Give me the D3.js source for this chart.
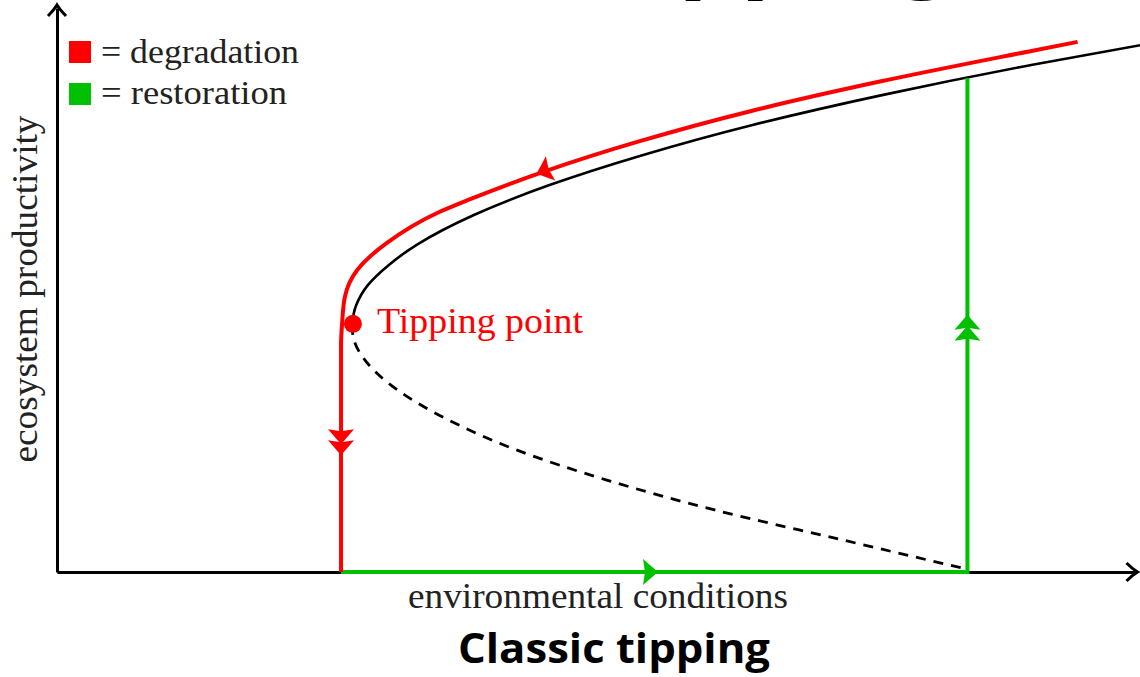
<!DOCTYPE html>
<html>
<head>
<meta charset="utf-8">
<script src="https://cdn.jsdelivr.net/npm/d3@7"></script>
<style>
  html, body { margin: 0; padding: 0; background: #fff; }
  svg { display: block; }
</style>
</head>
<body>
<div id="chart"></div>
<script>
(function(){
  'use strict';

  // upper (stable) branch, right end first
  var stableX = [100.3, 90.2, 76.5, 64.5, 54.2, 45.6, 38.6, 33.3, 30.7, 28.8, 27.7, 27.3];
  var stableY = [93.4, 89.9, 84.6, 79.3, 73.9, 68.6, 63.3, 58.0, 54.4, 50.9, 47.3, 43.8];
  // lower (unstable) branch, dashed
  var unstableX = [27.3, 27.5, 28.5, 31.5, 36.2, 42.6, 50.9, 60.9, 72.7, 83.8];
  var unstableY = [43.8, 41.1, 37.6, 32.3, 27.0, 21.6, 16.3, 11.0, 5.7, 0.7];
  // degradation path (red)
  var degradeX = [94.5, 90.0, 76.3, 64.2, 53.8, 45.1, 38.2, 35.2, 30.55, 27.8, 26.65, 26.4, 26.3, 26.3];
  var degradeY = [94.0, 92.3, 87.0, 81.7, 76.3, 71.0, 66.05, 63.65, 58.35, 53.55, 48.75, 44.15, 40.25, 0];
  // restoration path (green)
  var restoreX = [26.3, 84.3, 84.3];
  var restoreY = [0, 0, 87.6];
  // tipping point
  var tipX = 27.4, tipY = 44.0;
  // arrow marks: [tipX, tipY, towardX, towardY, heads]
  var degradeArrows = [[44.4, 70.6, 38.2, 66.05, 1], [26.3, 20.7, 26.3, 0, 2]];
  var restoreArrows = [[55.65, 0, 84.3, 0, 1], [84.3, 45.6, 84.3, 87.6, 2]];

  var legendLabels = ['= degradation', '= restoration'];
  var xLabel = 'environmental conditions',
      yLabel = 'ecosystem productivity',
      tipLabel = 'Tipping point',
      caption = 'Classic tipping';

  var w = 1140, h = 677,
      red = '#ff0000', green = '#00c000',
      serif = '"Liberation Serif", "DejaVu Serif", serif';

  var svg = d3.select('#chart').append('svg')
    .attr('width', w)
    .attr('height', h);

  var x = d3.scaleLinear().domain([0, 100]).range([57, 1137]),
      y = d3.scaleLinear().domain([0, 100]).range([572, 8]);

  // heading above the chart, cut off by the top edge
  svg.append('text')
    .attr('x', 678).attr('y', -24)
    .attr('textLength', 275)
    .attr('lengthAdjust', 'spacingAndGlyphs')
    .style('font-family', '"Open Sans", sans-serif')
    .style('font-weight', 700)
    .style('font-size', '105px')
    .text('pping');

  // axes without ticks
  svg.append('g')
    .attr('transform', 'translate(0,' + y(0) + ')')
    .call(d3.axisBottom(x).tickValues([]).tickSizeOuter(0))
    .select('.domain').attr('stroke', '#000').attr('stroke-width', 3);
  svg.append('g')
    .attr('transform', 'translate(' + x(0) + ',0)')
    .call(d3.axisLeft(y).tickValues([]).tickSizeOuter(0))
    .select('.domain').attr('stroke', '#000').attr('stroke-width', 3);

  var chevron = 'M-11,-9 Q-5,-3 0,0 Q-5,3 -11,9';
  svg.append('path').attr('d', chevron)
    .attr('transform', 'translate(' + (x(100) + 0.5) + ',' + y(0) + ')')
    .attr('fill', 'none').attr('stroke', '#000').attr('stroke-width', 3);
  svg.append('path').attr('d', chevron)
    .attr('transform', 'translate(' + x(0) + ',' + (y(100) - 3) + ') rotate(-90)')
    .attr('fill', 'none').attr('stroke', '#000').attr('stroke-width', 3);

  var lineY = d3.line()
    .x(function(d){ return x(d[0]); })
    .y(function(d){ return y(d[1]); })
    .curve(d3.curveMonotoneY);
  var lineL = d3.line()
    .x(function(d){ return x(d[0]); })
    .y(function(d){ return y(d[1]); });

  function pairs(xs, ys){ return xs.map(function(v, i){ return [v, ys[i]]; }); }

  svg.append('path')
    .attr('d', lineY(pairs(stableX, stableY)))
    .attr('fill', 'none').attr('stroke', '#000').attr('stroke-width', 2.6);
  svg.append('path')
    .attr('d', lineY(pairs(unstableX, unstableY)))
    .attr('fill', 'none').attr('stroke', '#000').attr('stroke-width', 2.8)
    .attr('stroke-dasharray', '10,8');

  svg.append('path')
    .attr('d', lineL(pairs(restoreX, restoreY)))
    .attr('fill', 'none').attr('stroke', green).attr('stroke-width', 4);
  svg.append('path')
    .attr('d', lineY(pairs(degradeX, degradeY)))
    .attr('fill', 'none').attr('stroke', red).attr('stroke-width', 4)
    .attr('stroke-linejoin', 'round');

  var head = 'M0,0 L-15,-13 L-13,0 L-15,13 Z';
  function drawArrows(list, col){
    list.forEach(function(a){
      var px = x(a[0]), py = y(a[1]),
          ang = Math.atan2(y(a[3]) - py, x(a[2]) - px) * 180 / Math.PI;
      var g = svg.append('g')
        .attr('transform', 'translate(' + px + ',' + py + ') rotate(' + ang + ')');
      d3.range(a[4]).forEach(function(k){
        g.append('path').attr('d', head)
          .attr('transform', 'translate(' + (-11 * k) + ',0)')
          .attr('fill', col);
      });
    });
  }
  drawArrows(degradeArrows, red);
  drawArrows(restoreArrows, green);

  svg.append('circle')
    .attr('cx', x(tipX)).attr('cy', y(tipY)).attr('r', 9)
    .attr('fill', red);
  svg.append('text')
    .attr('x', 377).attr('y', 333)
    .attr('textLength', 206).attr('lengthAdjust', 'spacingAndGlyphs')
    .style('font-family', serif).style('font-size', '36px')
    .attr('fill', red)
    .text(tipLabel);

  // legend
  var legendCols = [red, green];
  legendLabels.forEach(function(t, i){
    svg.append('rect')
      .attr('x', 69).attr('y', 41 + i * 42)
      .attr('width', 22).attr('height', 22)
      .attr('fill', legendCols[i]);
    svg.append('text')
      .attr('x', 101).attr('y', 63 + i * 41)
      .attr('textLength', i ? 186 : 198).attr('lengthAdjust', 'spacingAndGlyphs')
      .style('font-family', serif).style('font-size', '33px')
      .attr('fill', '#222')
      .text(t);
  });

  svg.append('text')
    .attr('x', 598).attr('y', 608)
    .attr('text-anchor', 'middle')
    .attr('textLength', 380).attr('lengthAdjust', 'spacingAndGlyphs')
    .style('font-family', serif).style('font-size', '35px')
    .attr('fill', '#222')
    .text(xLabel);

  svg.append('text')
    .attr('transform', 'translate(37,289) rotate(-90)')
    .attr('text-anchor', 'middle')
    .attr('textLength', 347).attr('lengthAdjust', 'spacingAndGlyphs')
    .style('font-family', serif).style('font-size', '35px')
    .attr('fill', '#222')
    .text(yLabel);

  svg.append('text')
    .attr('x', 614).attr('y', 663)
    .attr('text-anchor', 'middle')
    .attr('textLength', 312).attr('lengthAdjust', 'spacingAndGlyphs')
    .style('font-family', '"Open Sans", sans-serif')
    .style('font-weight', 700)
    .style('font-size', '42px')
    .text(caption);
}());
</script>
</body>
</html>
